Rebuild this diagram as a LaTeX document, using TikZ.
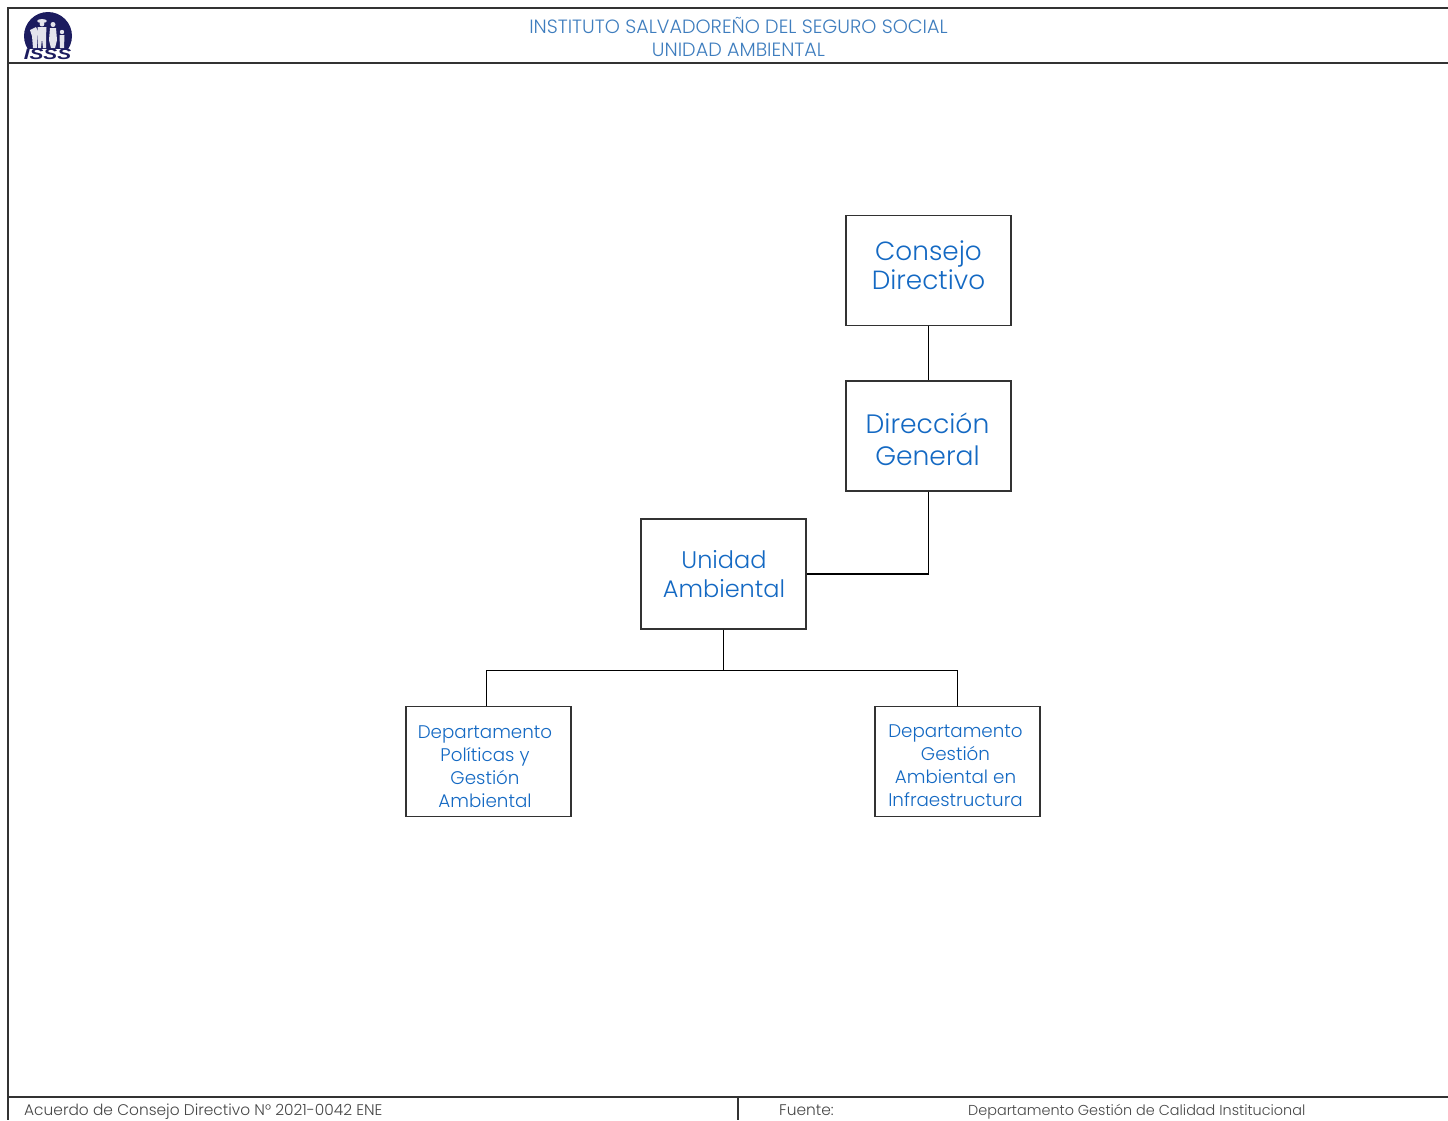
\documentclass[tikz,border=0pt]{standalone}
\usepackage{fontspec}
\usetikzlibrary{calc}
\setmainfont{Poppins Light}
\newfontfamily\logofont{Liberation Sans}
\definecolor{boxblue}{RGB}{20,105,195}
\definecolor{headblue}{RGB}{62,125,190}
\definecolor{navy}{RGB}{28,28,95}
\definecolor{rulegray}{RGB}{50,50,50}
\definecolor{foot}{RGB}{70,70,70}
% text nudged by (dx,dy) inside its box, without changing the size of the box
\newcommand{\nudged}[3]{\raisebox{#2}[0pt][0pt]{\makebox[0pt]{\hspace*{#1}\parbox{160pt}{\centering #3}}}}
\tikzset{
  x=1pt,y=-1pt,
  orgbox/.style={draw=rulegray,line width=1.2pt,fill=white,minimum width=165pt,minimum height=110pt,inner sep=0pt,text=boxblue},
  big/.style={orgbox,font=\fontsize{26.3}{29}\selectfont},
  bigger/.style={orgbox,font=\fontsize{26.6}{32}\selectfont},
  mid/.style={orgbox,font=\fontsize{24}{29}\selectfont},
  small/.style={orgbox,font=\fontsize{18.3}{23}\selectfont},
  link/.style={draw=black,line width=1.4pt},
  frameline/.style={draw=rulegray,line width=2pt},
  head/.style={text=headblue,font=\fontsize{19.2}{23}\selectfont,align=center,inner sep=0pt},
  footer/.style={text=foot,font=\fontsize{15.4}{18}\selectfont,anchor=west,inner sep=0pt},
  figure/.style={fill=white!88!navy}
}
\begin{document}
\begin{tikzpicture}
\useasboundingbox (0,0) rectangle (1448,1120);
\fill[white] (0,0) rectangle (1448,1120);
% frame
\draw[frameline] (1448,8) -- (7.5,8) -- (7.5,1120);
\draw[frameline] (7.5,63) -- (1448,63);
\draw[frameline] (7.5,1097) -- (1448,1097);
\draw[frameline] (737.5,1097) -- (737.5,1120);
% logo
\fill[navy] (48,36) circle (24);
\fill[white] (20,48.5) rectangle (76,62);
\fill[figure] (30,30) -- (36,27) -- (38,31) -- (37,48) -- (33,48) -- (32,36) -- cycle;
\fill[figure] (42,21) ellipse (5 and 2);
\fill[figure] (42,24) circle (2.4);
\fill[figure] (37.5,27) -- (46.5,27) -- (46,37) -- (46,48) -- (43,48) -- (42,38.5) -- (41,48) -- (38,48) -- (38,37) -- cycle;
\fill[figure] (53,24.5) circle (2.5);
\fill[figure] (50,28) -- (56,28) -- (57,40) -- (55,48) -- (51,48) -- (49,40) -- cycle;
\fill[figure] (62,32) circle (2.2);
\fill[figure] (59.5,35) -- (64.5,35) -- (64,48) -- (60,48) -- cycle;
\node[inner sep=0pt,text=navy,font=\logofont\fontsize{16}{16}\selectfont\bfseries\itshape] (logotext) at (47.5,54.5) {\scalebox{1.3}[0.95]{ISSS}};
% header
\node[head] (title) at (738.5,37) {INSTITUTO SALVADOREÑO DEL SEGURO SOCIAL\\UNIDAD AMBIENTAL};
% boxes
\node[big] (cd) at (928.5,270.5) {\nudged{0pt}{-1pt}{Consejo\\Directivo}};
\node[bigger] (dg) at (928.5,436) {\nudged{-2pt}{-10pt}{Dirección\\General}};
\node[mid] (ua) at (723.5,574) {\nudged{1pt}{-6pt}{Unidad\\Ambiental}};
\node[small] (pg) at (488.5,761.5) {\nudged{-7pt}{-9pt}{Departamento\\Políticas y\\Gestión\\Ambiental}};
\node[small] (ia) at (957.5,761.5) {\nudged{-4pt}{-8pt}{Departamento\\Gestión\\Ambiental en\\Infraestructura}};
% connectors
\draw[link] (cd.south) -- (dg.north);
\draw[link] (dg.south) |- (ua.east);
\coordinate (bus) at (723.5,670.5);
\coordinate (pgtop) at ($(pg.north)+(-2,0)$);
\draw[link] (ua.south) -- (bus);
\draw[link] (pgtop) |- (bus) -| (ia.north);
% footer
\node[footer] (acuerdo) at (24,1111.5) {Acuerdo de Consejo Directivo N° 2021-0042 ENE};
\node[footer] (fuente) at (779,1110) {Fuente:};
\node[footer,font=\fontsize{14.4}{18}\selectfont] (depto) at (968,1111.5) {Departamento Gestión de Calidad Institucional};
\end{tikzpicture}
\end{document}
